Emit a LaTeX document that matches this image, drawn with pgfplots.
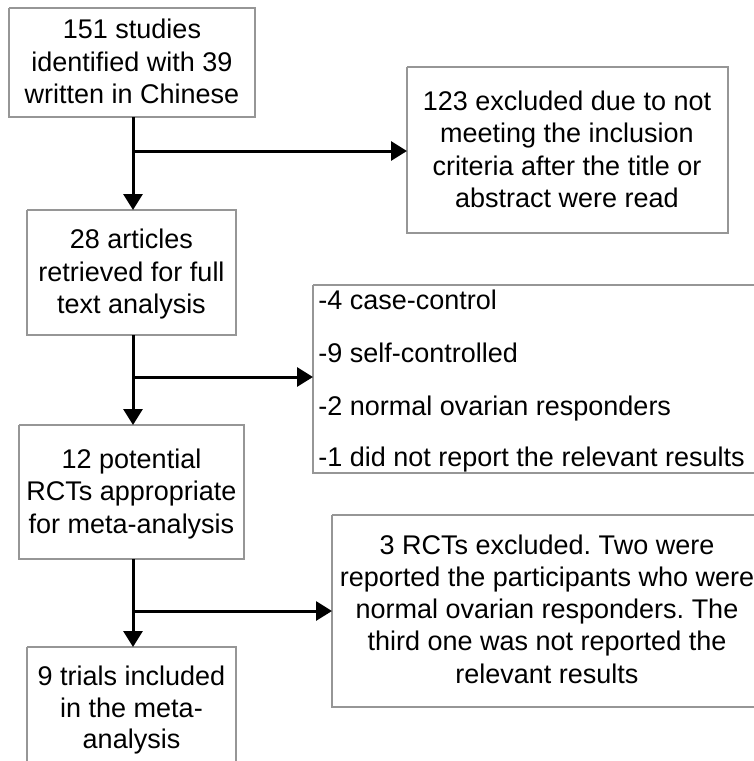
\documentclass[border=0pt]{standalone}
\usepackage{pgfplots}
\pgfplotsset{compat=1.18}
\usepackage{fontspec}
\setmainfont{Liberation Sans}
\usetikzlibrary{arrows.meta}
\definecolor{boxgray}{RGB}{150,150,150}
\tikzset{t/.style={font=\fontsize{13.5}{16}\selectfont, inner sep=0pt, anchor=base},
         tl/.style={font=\fontsize{13.5}{16}\selectfont, inner sep=0pt, anchor=base west}}
\frenchspacing
\begin{document}
\begin{tikzpicture}
\begin{axis}[
  scale only axis, width=377pt, height=380.5pt,
  xmin=0, xmax=754, ymin=0, ymax=761, y dir=reverse,
  hide axis, clip=true,
]
% background
\addplot[fill=white, draw=none] coordinates {(0,0) (754,0) (754,761) (0,761) (0,0)};
% boxes
\addplot[draw=boxgray, line width=0.8pt] coordinates {(9,8) (255,8) (255,117) (9,117) (9,8)};
\addplot[draw=boxgray, line width=0.8pt] coordinates {(407,67) (728,67) (728,233) (407,233) (407,67)};
\addplot[draw=boxgray, line width=0.8pt] coordinates {(27,210) (236,210) (236,335) (27,335) (27,210)};
\addplot[draw=boxgray, line width=0.8pt] coordinates {(313,285) (780,285) (780,473) (313,473) (313,285)};
\addplot[draw=boxgray, line width=0.8pt] coordinates {(19,425) (244,425) (244,559) (19,559) (19,425)};
\addplot[draw=boxgray, line width=0.8pt] coordinates {(332,515) (780,515) (780,707) (332,707) (332,515)};
\addplot[draw=boxgray, line width=0.8pt] coordinates {(27,647) (236,647) (236,800) (27,800) (27,647)};
% arrows
\addplot[black, line width=1.5pt, -{Triangle[length=8pt,width=9.5pt]}] coordinates {(133,117) (133,210)};
\addplot[black, line width=1.5pt, -{Triangle[length=8pt,width=9.5pt]}] coordinates {(133,151) (407,151)};
\addplot[black, line width=1.5pt, -{Triangle[length=8pt,width=9.5pt]}] coordinates {(133,335) (133,425)};
\addplot[black, line width=1.5pt, -{Triangle[length=8pt,width=9.5pt]}] coordinates {(133,377) (313,377)};
\addplot[black, line width=1.5pt, -{Triangle[length=8pt,width=9.5pt]}] coordinates {(133,559) (133,647)};
\addplot[black, line width=1.5pt, -{Triangle[length=8pt,width=9.5pt]}] coordinates {(133,611) (332,611)};
% box 1
\node[t] at (axis cs:132,38.5) {151 studies};
\node[t] at (axis cs:132,71) {identified with 39};
\node[t] at (axis cs:132,103.5) {written in Chinese};
% box 2
\node[t] at (axis cs:567,110) {123 excluded due to not};
\node[t] at (axis cs:567,142.5) {meeting the inclusion};
\node[t] at (axis cs:567,175) {criteria after the title or};
\node[t] at (axis cs:567,207) {abstract were read};
% box 3
\node[t] at (axis cs:131.5,248) {28 articles};
\node[t] at (axis cs:131.5,281) {retrieved for full};
\node[t] at (axis cs:131.5,313) {text analysis};
% box 5
\node[tl] at (axis cs:318,309) {-4 case-control};
\node[tl] at (axis cs:318,362) {-9 self-controlled};
\node[tl] at (axis cs:318,415) {-2 normal ovarian responders};
\node[tl] at (axis cs:318,466) {-1 did not report the relevant results};
% box 4
\node[t] at (axis cs:131.5,468) {12 potential};
\node[t] at (axis cs:131.5,500.5) {RCTs appropriate};
\node[t] at (axis cs:131.5,533) {for meta-analysis};
% box 6
\node[t] at (axis cs:547,554) {3 RCTs excluded. Two were};
\node[t] at (axis cs:547,586) {reported the participants who were};
\node[t] at (axis cs:547,618) {normal ovarian responders. The};
\node[t] at (axis cs:547,650.5) {third one was not reported the};
\node[t] at (axis cs:547,683) {relevant results};
% box 7
\node[t] at (axis cs:131.5,685) {9 trials included};
\node[t] at (axis cs:131.5,717) {in the meta-};
\node[t] at (axis cs:131.5,748) {analysis};
\end{axis}
\end{tikzpicture}
\end{document}
